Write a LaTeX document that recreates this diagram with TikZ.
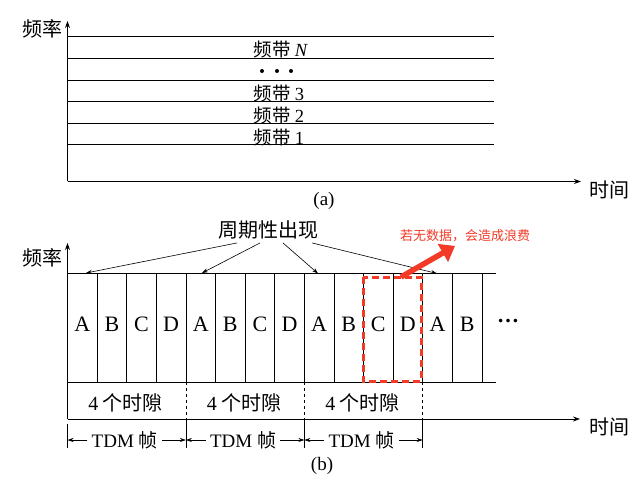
\documentclass[tikz,border=0pt]{standalone}
\usepackage{fontspec}
\setmainfont{Liberation Serif}
\newfontfamily\cjk{Noto Sans CJK SC}
\usetikzlibrary{arrows.meta}
\begin{document}
\begin{tikzpicture}[x=1pt,y=-1pt,line width=0.7pt,
  axe/.style={line width=0.9pt,-{Stealth[length=7pt,width=5pt]}},
  fleche/.style={line width=0.6pt,-{Stealth[length=6pt,width=4pt]}},
  texte/.style={font=\fontsize{20}{22}\selectfont\cjk},
  bande/.style={font=\fontsize{18.5}{20}\selectfont\cjk,anchor=west},
  lettre/.style={font=\fontsize{22}{24}\selectfont},
  tdm/.style={font=\fontsize{19}{21}\selectfont,inner xsep=4pt}]
\definecolor{mon_rouge}{HTML}{F23A26}
\useasboundingbox (0,0) rectangle (639,486);

%%%%% figure (a)
\coordinate (origine_a) at (67.5,181.5);
\coordinate (haut_a) at (67.5,21);
\coordinate (fin_a) at (581,181.5);
\draw[axe] (origine_a) to (haut_a);%l'axe des frequences
\draw[axe] (origine_a) to (fin_a);%l'axe du temps
\node[texte] (freq_a) at (42,29){频率};
\node[texte] (temps_a) at (609,190){时间};

\foreach \y in {36,58,80,101.5,123,144.5}
  \draw (67.5,\y) to (494,\y);%les limites des bandes

\node[bande] (bande_n) at (250,49){频带 {\rmfamily\itshape N}};
\fill (262,71) circle (2) (277,71) circle (2) (291,71) circle (2);%les points
\node[bande] (bande_3) at (250,93){频带 {\rmfamily 3}};
\node[bande] (bande_2) at (250,115){频带 {\rmfamily 2}};
\node[bande] (bande_1) at (250,137){频带 {\rmfamily 1}};
\node[tdm] (legende_a) at (324,201){(a)};

%%%%% figure (b)
\coordinate (origine_b) at (67.5,419);
\coordinate (haut_b) at (67.5,243);
\coordinate (fin_b) at (580,419);
\draw[axe] (origine_b) to (haut_b);%l'axe des frequences
\draw[axe] (origine_b) to (fin_b);%l'axe du temps
\node[texte] (freq_b) at (42,258){频率};
\node[texte] (temps_b) at (609,427){时间};

\draw (67.5,273) to (496,273);%le haut des creneaux
\draw (67.5,382) to (496,382);%le bas des creneaux
\foreach \i in {1,...,14}
  \draw (67.5+29.6*\i,273) to (67.5+29.6*\i,382);%les separations des creneaux
\foreach \l [count=\i from 0] in {A,B,C,D,A,B,C,D,A,B,C,D,A,B}
  \node[lettre] (creneau\i) at (82.3+29.6*\i,324){\l};
\node[lettre] (suite) at (508,321){\textbf{\dots}};

% les trames TDM
\draw (67.5,424) to (67.5,448);
\foreach \i in {1,2,3}{
  \draw[dashed,line width=0.5pt] (67.5+118.4*\i,382) to (67.5+118.4*\i,419);
  \draw (67.5+118.4*\i,419) to (67.5+118.4*\i,448);
  \coordinate (borne\i) at (67.5+118.4*\i,440);
}
\coordinate (borne0) at (67.5,440);
\foreach \i [evaluate=\i as \j using int(\i-1)] in {1,2,3}{
  \node[texte] (tranche\i) at (125.7+118.4*\j,403){{\rmfamily 4} 个时隙};
  \node[tdm] (trame\i) at (124.7+118.4*\j,440){TDM {\cjk 帧}};
  \draw[fleche] (trame\i.west) to (borne\j);
  \draw[fleche] (trame\i.east) to (borne\i);
}
\node[tdm] (legende_b) at (322,466){(b)};

% les fleches periodiques
\node[texte] (periodique) at (268,230){周期性出现};
\coordinate (cible1) at (86,273);
\coordinate (cible2) at (202,273);
\coordinate (cible3) at (318,273.5);
\coordinate (cible4) at (437,273.5);
\draw[fleche] ([xshift=-31pt]periodique.south) to (cible1);
\draw[fleche] ([xshift=-8pt]periodique.south) to (cible2);
\draw[fleche] ([xshift=15pt]periodique.south) to (cible3);
\draw[fleche] ([xshift=44pt]periodique.south) to (cible4);

% le cadre rouge
\draw[mon_rouge,line width=3pt,dash pattern=on 7pt off 4pt] (363,277) rectangle (421,381);
\coordinate (depart_rouge) at (401,277);
\node[mon_rouge,font=\fontsize{13}{15}\selectfont\cjk] (gaspillage) at (465,236){若无数据，会造成浪费};
\coordinate (pointe_rouge) at (455,246);
\draw[mon_rouge,line width=5.5pt,-{Triangle[length=14pt,width=20pt]}] (depart_rouge) to (pointe_rouge);

\end{tikzpicture}
\end{document}
